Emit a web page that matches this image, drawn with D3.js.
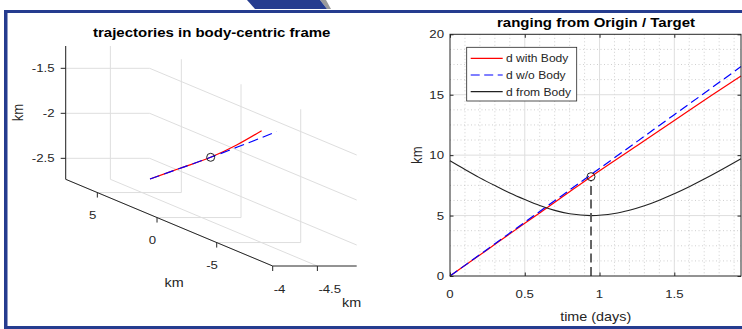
<!DOCTYPE html>
<html>
<head>
<meta charset="utf-8">
<script src="https://cdn.jsdelivr.net/npm/d3@7"></script>
<style>
  body { margin: 0; background: #fff; }
  svg { display: block; font-family: "Liberation Sans", Arial, sans-serif; }
</style>
</head>
<body>
<svg id="fig" width="742" height="329"></svg>
<script>
// ---- ranging plot (time in days, range in km)
const tDays       = [0, 0.25, 0.5, 0.75, 0.943, 1.25, 1.5, 1.75, 1.946];
const dWithBody   = [0, 2.18, 4.36, 6.53, 8.22, 10.78, 12.86, 14.95, 16.55];
const dNoBody     = [0, 2.22, 4.45, 6.67, 8.39, 11.12, 13.35, 15.57, 17.33];
const tBody       = [0, 0.1, 0.2, 0.3, 0.4, 0.5, 0.6, 0.7, 0.8, 0.943, 1.1, 1.2, 1.3, 1.4, 1.5, 1.6, 1.7, 1.8, 1.946];
const dFromBody   = [9.53, 8.81, 8.12, 7.48, 6.87, 6.33, 5.83, 5.43, 5.15, 5.0, 5.17, 5.44, 5.81, 6.27, 6.81, 7.39, 8.02, 8.69, 9.7];
const closest     = [0.943, 8.22];
const rangeXTicks = [0, 0.5, 1, 1.5];
const rangeYTicks = [0, 5, 10, 15, 20];
const legendNames = ['d with Body', 'd w/o Body', 'd from Body'];

// ---- body-centric trajectories (km)
const withX = [-4.5, -4.5, -4.5, -4.5, -4.5];
const withY = [4.33, 1.82, -0.75, -2.93, -5.02];
const withZ = [-2.545, -2.287, -2.022, -1.764, -1.489];
const noX   = [-4.5, -4.5, -4.5];
const noY   = [4.33, -0.75, -6.28];
const noZ   = [-2.545, -2.022, -1.430];
const bodyPoint = [-4.5, -0.75, -2.022];
const x3Ticks = [-4, -4.5];
const y3Ticks = [5, 0, -5];
const z3Ticks = [-1.5, -2, -2.5];
const x3Lim = [-4, -4.94];
const y3Lim = [7.65, -9.69];
const z3Lim = [-2.733, -1.252];

const AX = '#262626', GRID = '#dedede', MINOR = '#c4c4c4', FRAME = '#253c8f';
const svg = d3.select('#fig');

function txt(g, x, y, s, o = {}) {
  const sx = o.sx || 1.15;
  const tr = `translate(${x},${y})` + (o.rot ? ` rotate(${o.rot}) scale(1.05,${sx})` : ` scale(${sx},1)`);
  return g.append('text')
    .attr('transform', tr)
    .attr('text-anchor', o.anchor || 'middle')
    .attr('font-size', o.size || 11.5)
    .attr('font-weight', o.bold ? 'bold' : null)
    .attr('fill', o.fill || AX)
    .text(s);
}

// ---- slide frame
svg.append('polygon').attr('points', '320,0 326,0 331,9 327,9').attr('fill', '#9a9a9a');
svg.append('polygon').attr('points', '247,0 320,0 327,9 255,9').attr('fill', FRAME);
svg.append('rect').attr('x', 5).attr('y', 10).attr('width', 737).attr('height', 3).attr('fill', FRAME);
svg.append('rect').attr('x', 4).attr('y', 10).attr('width', 3.5).attr('height', 319).attr('fill', FRAME);
svg.append('rect').attr('x', 4).attr('y', 326).attr('width', 738).attr('height', 3).attr('fill', FRAME);

// =========== left: 3D view
const g3 = svg.append('g');
const px = d3.scaleLinear().domain(x3Lim).range([0, 84]);
const py = d3.scaleLinear().domain(y3Lim).range([0, 1]);
const pz = d3.scaleLinear().domain(z3Lim).range([179.3, 46]);
const yEdge = [207, 86.7];
const ox = 65.7;
function proj(x, y, z) {
  const t = py(y);
  return [ox + px(x) + t * yEdge[0], pz(z) + t * yEdge[1]];
}
const [xA, xB] = x3Lim, [yA, yB] = y3Lim, [zA, zB] = z3Lim;
const poly = d3.line();

// grid on the back walls and floor
z3Ticks.forEach(z => g3.append('path')
  .attr('d', poly([proj(xA, yA, z), proj(xB, yA, z), proj(xB, yB, z)]))
  .attr('fill', 'none').attr('stroke', GRID));
y3Ticks.forEach(y => g3.append('path')
  .attr('d', poly([proj(xA, y, zA), proj(xB, y, zA), proj(xB, y, zB)]))
  .attr('fill', 'none').attr('stroke', GRID));
x3Ticks.forEach(x => g3.append('path')
  .attr('d', poly([proj(x, yB, zA), proj(x, yA, zA), proj(x, yA, zB)]))
  .attr('fill', 'none').attr('stroke', GRID));

// axes
[[proj(xA, yA, zA), proj(xA, yA, zB)],
 [proj(xA, yA, zA), proj(xA, yB, zA)],
 [proj(xA, yB, zA), proj(xB, yB, zA)]].forEach(s =>
  g3.append('path').attr('d', poly(s)).attr('stroke', AX).attr('stroke-width', 1));

z3Ticks.forEach(z => {
  const p = proj(xA, yA, z);
  g3.append('line').attr('x1', p[0] - 5).attr('x2', p[0]).attr('y1', p[1]).attr('y2', p[1]).attr('stroke', AX);
  txt(g3, 54.5, p[1] + 4.1, String(z), { anchor: 'end' });
});
y3Ticks.forEach(y => {
  const p = proj(xA, y, zA);
  g3.append('line').attr('x1', p[0]).attr('x2', p[0]).attr('y1', p[1]).attr('y2', p[1] + 5).attr('stroke', AX);
  txt(g3, p[0] - 4.7, p[1] + 26.6, String(y));
});
x3Ticks.forEach(x => {
  const p = proj(x, yB, zA);
  g3.append('line').attr('x1', p[0]).attr('x2', p[0]).attr('y1', p[1]).attr('y2', p[1] + 5).attr('stroke', AX);
  txt(g3, p[0] + 1, 293, String(x), { anchor: 'start' });
});
txt(g3, 22.5, 112.5, 'km', { rot: -90, size: 12.5 });
txt(g3, 174.2, 286.5, 'km', { size: 12.5 });
txt(g3, 351.7, 306.5, 'km', { size: 12.5 });
txt(g3, 211.7, 37.2, 'trajectories in body-centric frame', { size: 12.5, bold: true, fill: '#000', sx: 1.2 });

const curve3 = d3.line().curve(d3.curveCatmullRom);
g3.append('path')
  .attr('d', curve3(withX.map((x, i) => proj(x, withY[i], withZ[i]))))
  .attr('fill', 'none').attr('stroke', '#ff0000').attr('stroke-width', 1.2);
g3.append('path')
  .attr('d', curve3(noX.map((x, i) => proj(x, noY[i], noZ[i]))))
  .attr('fill', 'none').attr('stroke', '#0000ff').attr('stroke-width', 1.2)
  .attr('stroke-dasharray', '10,5');
const bp = proj(...bodyPoint);
g3.append('circle').attr('cx', bp[0]).attr('cy', bp[1]).attr('r', 4)
  .attr('fill', 'none').attr('stroke', '#222').attr('stroke-width', 1);

// =========== right: ranging
const gr = svg.append('g');
const xR = d3.scaleLinear().domain([0, 1.946]).range([450, 741]);
const yR = d3.scaleLinear().domain([0, 20]).range([276, 34.3]);
const [L, R] = xR.range(), [B, T] = yR.range();

// minor grid
d3.range(0.1, 1.946, 0.1).filter(v => Math.abs(v * 2 - Math.round(v * 2)) > 1e-6).forEach(v =>
  gr.append('line').attr('x1', xR(v)).attr('x2', xR(v)).attr('y1', T).attr('y2', B)
    .attr('stroke', MINOR).attr('stroke-width', 0.8).attr('stroke-dasharray', '1,2.5'));
d3.range(1.25, 20, 1.25).filter(v => v % 5 !== 0).forEach(v =>
  gr.append('line').attr('x1', L).attr('x2', R).attr('y1', yR(v)).attr('y2', yR(v))
    .attr('stroke', MINOR).attr('stroke-width', 0.8).attr('stroke-dasharray', '1,2.5'));
// major grid
rangeXTicks.slice(1).forEach(v =>
  gr.append('line').attr('x1', xR(v)).attr('x2', xR(v)).attr('y1', T).attr('y2', B).attr('stroke', GRID));
rangeYTicks.slice(1, -1).forEach(v =>
  gr.append('line').attr('x1', L).attr('x2', R).attr('y1', yR(v)).attr('y2', yR(v)).attr('stroke', GRID));

// series
const lineR = d3.line().x(d => xR(d[0])).y(d => yR(d[1])).curve(d3.curveMonotoneX);
gr.append('path').attr('d', lineR(tDays.map((t, i) => [t, dWithBody[i]])))
  .attr('fill', 'none').attr('stroke', '#ff0000').attr('stroke-width', 1.2);
gr.append('path').attr('d', lineR(tDays.map((t, i) => [t, dNoBody[i]])))
  .attr('fill', 'none').attr('stroke', '#0000ff').attr('stroke-width', 1.2).attr('stroke-dasharray', '9,4.5');
gr.append('path').attr('d', lineR.curve(d3.curveCatmullRom)(tBody.map((t, i) => [t, dFromBody[i]])))
  .attr('fill', 'none').attr('stroke', '#222').attr('stroke-width', 1.1);
gr.append('line').attr('x1', xR(closest[0])).attr('x2', xR(closest[0]))
  .attr('y1', yR(0)).attr('y2', yR(closest[1]) + 4)
  .attr('stroke', '#555').attr('stroke-width', 1.8).attr('stroke-dasharray', '9,4.5');
gr.append('circle').attr('cx', xR(closest[0])).attr('cy', yR(closest[1])).attr('r', 4)
  .attr('fill', 'none').attr('stroke', '#222').attr('stroke-width', 1);

// axes box with inward ticks
const tk = 3.5;
gr.append('g').attr('transform', `translate(0,${B})`)
  .call(d3.axisBottom(xR).tickValues(rangeXTicks).tickSize(-tk).tickFormat(''));
gr.append('g').attr('transform', `translate(0,${T})`)
  .call(d3.axisTop(xR).tickValues(rangeXTicks).tickSize(-tk).tickFormat(''));
gr.append('g').attr('transform', `translate(${L},0)`)
  .call(d3.axisLeft(yR).tickValues(rangeYTicks).tickSize(-tk).tickFormat(''));
gr.append('g').attr('transform', `translate(${R},0)`)
  .call(d3.axisRight(yR).tickValues(rangeYTicks).tickSize(-tk).tickFormat(''));
gr.selectAll('.domain').remove();
gr.selectAll('.tick line').attr('stroke', AX);
gr.append('rect').attr('x', L).attr('y', T).attr('width', R - L).attr('height', B - T)
  .attr('fill', 'none').attr('stroke', AX).attr('stroke-width', 1);

rangeXTicks.forEach(v => txt(gr, xR(v), 297.5, String(v)));
rangeYTicks.forEach(v => txt(gr, 444, yR(v) + 4.1, String(v), { anchor: 'end' }));
txt(gr, 595.7, 321, 'time (days)', { size: 12.5 });
txt(gr, 421.5, (T + B) / 2, 'km', { rot: -90, size: 12.5 });
txt(gr, 596, 27.4, 'ranging from Origin / Target', { size: 12.5, bold: true, fill: '#000', sx: 1.2 });

// legend
const lg = gr.append('g');
lg.append('rect').attr('x', 466.7).attr('y', 47.3).attr('width', 110).attr('height', 53.7)
  .attr('fill', '#fff').attr('stroke', AX).attr('stroke-width', 0.8);
const legStyles = [
  { c: '#ff0000', dash: null },
  { c: '#0000ff', dash: '9,4.5' },
  { c: '#222', dash: null }
];
legendNames.forEach((name, i) => {
  const y = 58.3 + i * 16.7;
  lg.append('line').attr('x1', 470.7).attr('x2', 502.7).attr('y1', y).attr('y2', y)
    .attr('stroke', legStyles[i].c).attr('stroke-width', 1.2).attr('stroke-dasharray', legStyles[i].dash);
  txt(lg, 506, y + 3.8, name, { anchor: 'start', size: 10.5 });
});
</script>
</body>
</html>
